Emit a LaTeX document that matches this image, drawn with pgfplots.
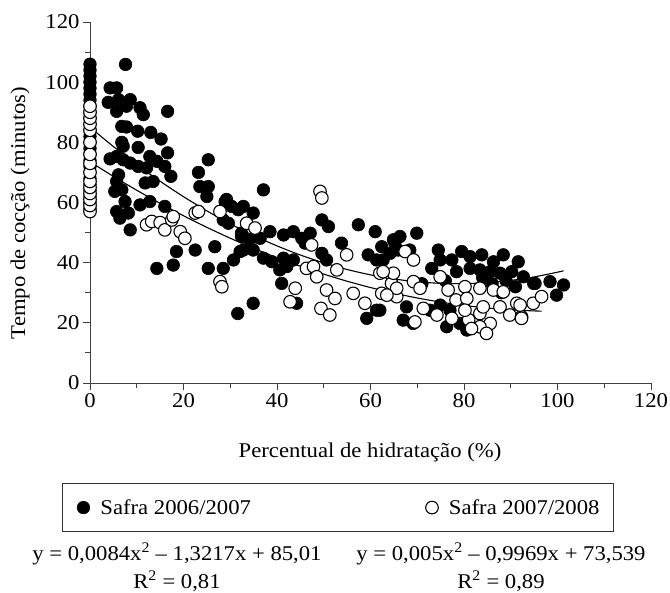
\documentclass[border=0pt]{standalone}
\usepackage{fontspec}
\setmainfont{Liberation Serif}[FakeStretch=1.08]
\usepackage{pgfplots}
\usepackage{pgfplotstable}
\pgfplotsset{compat=1.18}

\newcommand\chartfont{\fontsize{21bp}{25bp}\selectfont}

% Safra 2006/2007 (filled)
\pgfplotstableread{
x y
0 58
0 60
0 62
0 64
0 66
0 68
0 70
0 72
0 74
0 76
0 78
0 80
0 82
0 84
0 86
0 88
0 90
0 92
0 94
0 96
0 98
0 100
0 102
0 104
0 106
7.6 105.9
4.3 98.1
5.7 98.1
3.9 93.3
6.1 94.2
8.6 94.2
5.7 90.3
7.8 92.0
10.7 91.5
11.4 89.2
16.6 90.3
6.8 85.3
7.8 85.1
10.2 83.7
13.0 83.3
15.2 81.1
6.8 80.0
7.1 78.7
10.3 78.3
16.6 76.5
4.3 74.5
5.7 75.3
7.1 74.2
8.6 73.1
10.3 72.0
12.1 71.5
12.8 75.3
14.3 73.7
16.0 72.0
17.3 68.7
6.1 69.2
5.7 67.0
11.8 66.5
13.5 67.0
25.3 74.2
23.2 70.0
23.5 65.3
25.3 65.3
5.3 63.7
6.8 64.2
25.0 62.0
29.2 61.0
5.7 57.0
8.2 56.5
6.4 54.8
7.5 60.3
8.6 50.9
10.7 59.2
12.8 60.3
16.0 58.7
18.5 43.7
17.8 39.2
14.3 38.1
22.5 44.2
26.7 45.3
25.3 38.1
28.5 38.1
28.9 60.3
30.3 58.7
31.7 57.6
28.5 54.2
29.6 53.1
32.4 49.8
32.1 43.7
30.7 40.9
31.6 23.1
37.1 64.2
32.8 58.7
34.9 56.5
33.5 53.1
32.4 48.7
34.2 47.6
32.8 44.2
34.9 44.2
38.5 50.3
36.4 48.1
37.1 41.5
38.9 40.3
41.4 41.5
42.1 38.7
43.5 40.9
40.6 37.6
41.4 49.2
43.5 50.3
45.3 48.1
47.1 49.8
46.0 46.5
49.6 54.2
51.0 52.0
49.6 43.1
50.6 40.9
41.0 33.1
34.9 26.5
57.4 52.6
61.0 50.3
53.8 46.5
62.4 45.3
59.5 42.6
61.3 40.9
64.9 47.6
65.9 44.2
59.2 21.5
61.3 24.2
44.2 26.5
69.9 49.8
66.3 48.7
65.2 46.5
68.4 44.2
64.2 43.1
62.7 40.9
74.5 44.2
74.9 40.9
73.1 38.1
77.4 40.9
79.5 43.7
81.3 42.0
83.8 42.6
86.3 40.3
88.4 42.6
91.6 40.3
90.2 37.0
92.7 35.3
94.9 33.1
78.4 37.0
81.3 38.1
83.4 37.6
85.6 37.0
87.7 36.5
86.0 33.0
89.0 34.0
91.0 32.0
88.0 30.0
84.0 35.0
71.0 33.0
76.0 34.0
62.0 24.2
67.7 25.3
67.0 20.9
69.1 19.8
72.7 24.2
74.9 25.9
77.0 24.2
79.1 19.8
76.3 18.7
81.3 18.1
83.4 18.7
80.6 17.6
101.3 32.6
99.8 29.2
98.4 33.7
95.2 33.1
}\safraA

% Safra 2007/2008 (open)
\pgfplotstableread{
x y
0 57
0 59
0 61
0 63
0 65
0 67
0 70
0 73
0 76
0 80
0 84
0 86
0 88
0 90
0 92
12.1 52.6
13.2 53.7
15.0 53.3
16.0 50.9
17.5 54.2
17.8 55.3
19.3 50.3
20.3 48.1
22.5 56.5
23.2 57.0
27.8 57.0
27.8 33.7
28.2 32.0
49.2 63.7
49.6 61.5
33.5 53.1
35.3 51.5
47.4 45.9
54.9 42.6
46.3 38.1
47.8 38.7
48.5 35.3
52.8 37.6
50.6 30.9
52.4 28.1
49.4 24.8
51.3 22.6
43.9 31.5
42.8 27.0
56.3 29.8
58.8 26.5
62.0 36.5
62.4 29.8
64.5 35.9
65.6 28.7
64.5 33.1
67.4 43.7
64.9 36.5
62.7 37.0
69.2 40.9
65.6 31.5
63.5 29.2
69.2 33.7
70.6 31.5
74.9 35.3
76.6 30.9
78.3 27.6
71.3 24.8
74.2 22.6
77.4 21.5
69.5 20.3
81.0 21.0
80.2 32.0
80.6 28.1
80.2 24.2
83.4 31.5
86.3 30.9
88.4 30.3
83.4 23.1
84.1 25.3
85.6 19.8
83.4 18.7
84.8 16.5
81.6 18.1
87.7 25.3
89.8 22.6
91.3 26.5
92.3 22.0
94.8 26.5
92.3 21.5
92.0 25.9
96.6 28.7
}\safraB

% trend lines, values of the fitted equations printed under the chart
\pgfplotstableread{
x y
0 85.01
5 78.61
10 72.63
15 67.07
20 61.94
25 57.22
30 52.92
35 49.04
40 45.58
45 42.54
50 39.93
55 37.73
60 35.95
65 34.59
70 33.65
75 33.13
80 33.03
85 33.36
90 34.10
95 35.26
100 36.84
101.3 37.30
}\trendA
\pgfplotstableread{
x y
0 73.54
5 68.68
10 64.07
15 59.71
20 55.60
25 51.74
30 48.13
35 44.77
40 41.66
45 38.80
50 36.19
55 33.83
60 31.73
65 29.87
70 28.26
75 26.90
80 25.79
85 24.93
90 24.32
95 23.96
96.6 23.90
}\trendB

\begin{document}
\begin{tikzpicture}
\begin{axis}[
    scale only axis,
    width=561bp, height=361bp,
    xmin=0, xmax=120, ymin=0, ymax=120,
    axis lines=left,
    axis line style={-, line width=0.9bp, black!75},
    tick align=outside,
    xtick={0,20,...,120}, minor xtick={10,30,...,110},
    ytick={0,20,...,120}, minor ytick={10,30,...,110},
    major tick length=7bp, minor tick length=5bp,
    every tick/.style={black!75, line width=0.9bp},
    tick label style={font=\chartfont},
    /pgf/number format/assume math mode=true,
    clip=false,
    legend columns=2,
    legend cell align=left,
    legend style={at={(-0.0499,-0.2770)}, anchor=north west,
        draw=black!80, line width=0.9bp, inner xsep=12bp, inner ysep=14bp,
        font=\chartfont,
        /tikz/every even column/.append style={column sep=170bp}},
    legend image code/.code={
        \path[draw=none] (0bp,0bp) -- (24bp,0bp);
        \draw[#1,only marks] plot coordinates {(9bp,0bp)};},
]
\addplot[forget plot, black, line width=1.1bp, smooth] table {\trendA};
\addplot[forget plot, black, line width=1.1bp, smooth] table {\trendB};
\addplot[only marks, mark=*, mark size=6.3bp,
    mark options={fill=black, draw=black, line width=0.6bp}] table {\safraA};
\addlegendentry{Safra 2006/2007}
\addplot[only marks, mark=*, mark size=6.3bp,
    mark options={fill=white, draw=black, line width=1.1bp}] table {\safraB};
\addlegendentry{Safra 2007/2008}
\end{axis}
\node[font=\chartfont, rotate=90] at (-70bp,170bp) {Tempo de cocção (minutos)};
\node[font=\chartfont] at (280bp,-69bp) {Percentual de hidratação (\%)};
\node[font=\chartfont] at (87bp,-171bp) {y = 0,0084x\textsuperscript{2} – 1,3217x + 85,01};
\node[font=\chartfont] at (87bp,-198bp) {R\textsuperscript{2} = 0,81};
\node[font=\chartfont] at (411bp,-171bp) {y = 0,005x\textsuperscript{2} – 0,9969x + 73,539};
\node[font=\chartfont] at (411bp,-198bp) {R\textsuperscript{2} = 0,89};
\pgfresetboundingbox
\path (-90bp,-210bp) rectangle (580bp,383bp);
\end{tikzpicture}
\end{document}
